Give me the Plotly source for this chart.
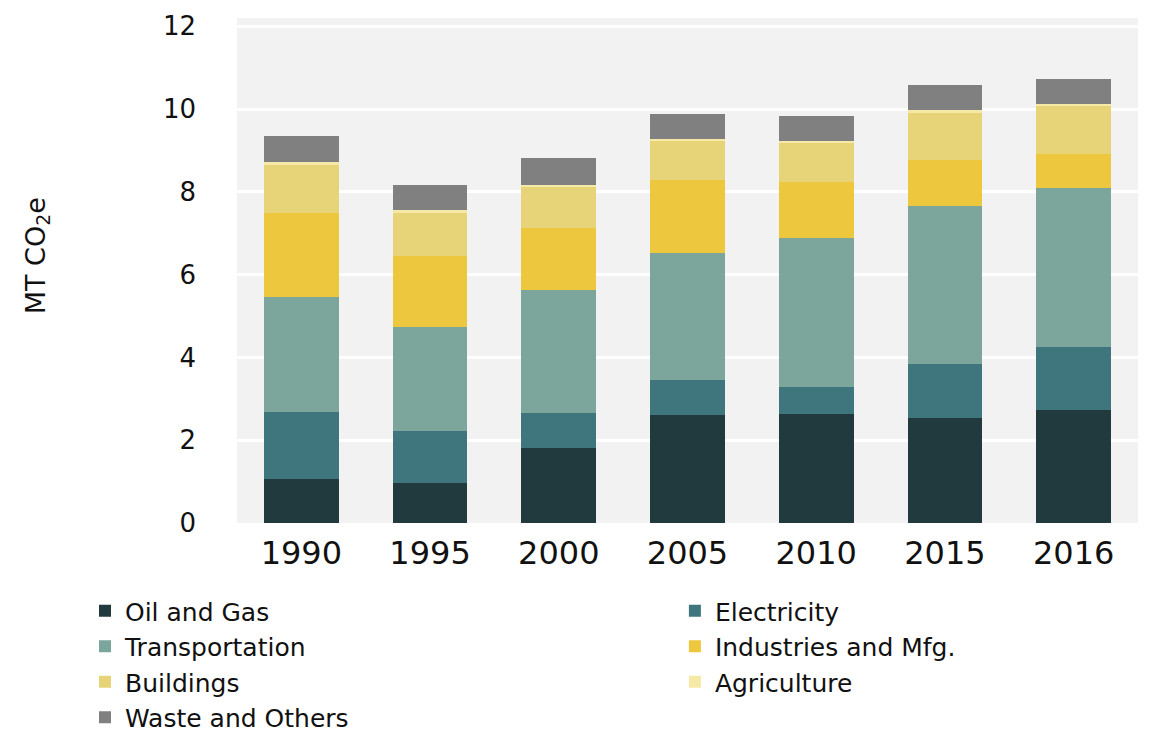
import plotly.graph_objects as go

years = ["1990", "1995", "2000", "2005", "2010", "2015", "2016"]

oil_gas = [1.06, 0.97, 1.81, 2.61, 2.63, 2.54, 2.73]
electricity = [1.62, 1.25, 0.85, 0.84, 0.66, 1.30, 1.52]
transportation = [2.78, 2.51, 2.97, 3.07, 3.59, 3.82, 3.84]
industries = [2.03, 1.72, 1.49, 1.76, 1.36, 1.11, 0.82]
buildings = [1.15, 1.03, 0.99, 0.94, 0.93, 1.13, 1.16]
agriculture = [0.07, 0.07, 0.06, 0.06, 0.06, 0.07, 0.06]
waste = [0.64, 0.61, 0.65, 0.60, 0.60, 0.60, 0.60]

# (name, values, colour, legend column)
series = [
    ("Oil and Gas", oil_gas, "#203a3e", "legend"),
    ("Electricity", electricity, "#3f757d", "legend2"),
    ("Transportation", transportation, "#7ca59c", "legend"),
    ("Industries and Mfg.", industries, "#edc73d", "legend2"),
    ("Buildings", buildings, "#e8d478", "legend"),
    ("Agriculture", agriculture, "#f6e9a6", "legend2"),
    ("Waste and Others", waste, "#808080", "legend"),
]

fig = go.Figure()
for name, vals, color, leg in series:
    fig.add_trace(go.Bar(
        x=years, y=vals, name=name,
        marker=dict(color=color, line=dict(width=0)),
        width=0.58,
        legend=leg,
    ))

font_family = "DejaVu Sans, Liberation Sans, Arial, sans-serif"
legend_font = dict(size=25, family=font_family, color="#111111")

fig.update_layout(
    barmode="stack",
    width=1173, height=735,
    margin=dict(l=237, r=35, t=18, b=212),
    paper_bgcolor="white",
    plot_bgcolor="#f2f2f2",
    font=dict(family=font_family, color="#111111"),
    showlegend=True,
    legend=dict(
        orientation="v",
        x=-0.1687, xanchor="left",
        yref="container", y=0.2, yanchor="top",
        font=legend_font,
        traceorder="normal",
        tracegroupgap=0,
    ),
    legend2=dict(
        orientation="v",
        x=0.486, xanchor="left",
        yref="container", y=0.2, yanchor="top",
        font=legend_font,
        traceorder="normal",
        tracegroupgap=0,
    ),
    xaxis=dict(
        showgrid=False,
        tickfont=dict(size=32, family=font_family, color="#111111"),
        ticks="",
        showline=False,
        ticklabelstandoff=8,
    ),
    yaxis=dict(
        range=[0, 12.2],
        tickvals=[0, 2, 4, 6, 8, 10, 12],
        tickfont=dict(size=26, family=font_family, color="#111111"),
        showgrid=True, gridcolor="white", gridwidth=3,
        zeroline=False, showline=False, ticks="",
        ticklabelstandoff=40,
    ),
    annotations=[dict(
        text="MT CO<sub>2</sub>e",
        xref="paper", yref="paper",
        x=-0.222, y=0.53,
        xanchor="center", yanchor="middle",
        textangle=-90, showarrow=False,
        font=dict(size=27, family=font_family, color="#111111"),
    )],
)

fig.write_html("out.html")
